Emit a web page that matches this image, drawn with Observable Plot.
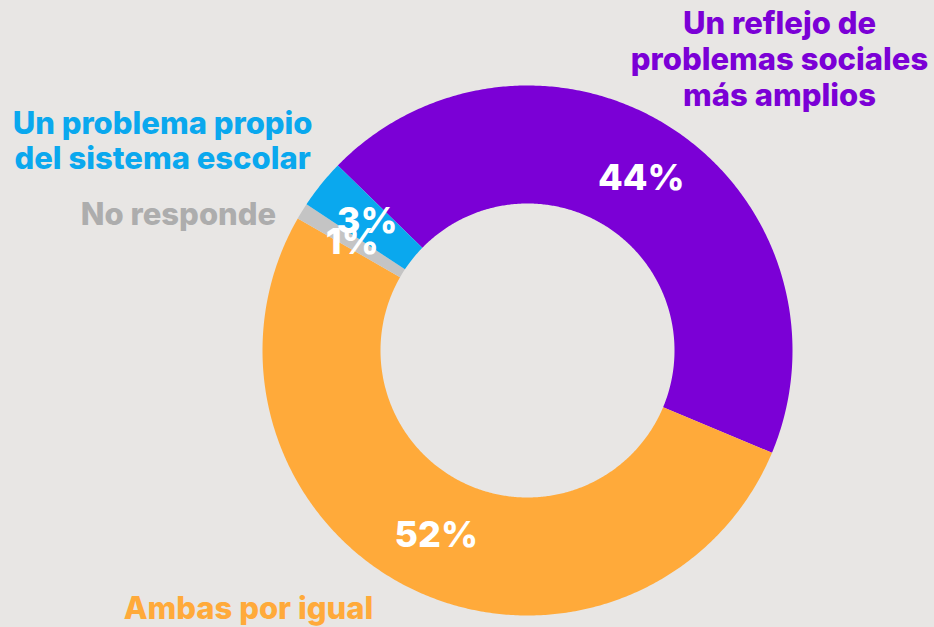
<!DOCTYPE html>
<html>
<head>
<meta charset="utf-8">
<script src="https://cdn.jsdelivr.net/npm/d3@7"></script>
<script src="https://cdn.jsdelivr.net/npm/@observablehq/plot@0.6"></script>
<style>
  html, body { margin: 0; padding: 0; background: #E8E6E4; }
</style>
</head>
<body>
<div id="chart"></div>
<script>
// Data
const categories = [
  "Un reflejo de problemas sociales más amplios",
  "Ambas por igual",
  "No responde",
  "Un problema propio del sistema escolar"
];
const values = [44, 52, 1, 3];
const valueLabels = ["44%", "52%", "1%", "3%"];
const colors = ["#7B00D6", "#FFAA3A", "#C4C4C4", "#0AA8EE"];

// Geometry (unit circle data space)
const startDeg = -45.7;
const innerR = 147 / 265;
const outerR = 1;

const total = d3.sum(values);
const slices = [];
let acc = 0;
categories.forEach((c, i) => {
  const a0 = (startDeg + acc / total * 360) * Math.PI / 180;
  acc += values[i];
  const a1 = (startDeg + acc / total * 360) * Math.PI / 180;
  slices.push({category: c, value: values[i], label: valueLabels[i], a0, a1});
});

const polyPts = [];
slices.forEach(s => {
  const n = Math.max(4, Math.ceil((s.a1 - s.a0) / (Math.PI / 360)));
  for (let k = 0; k <= n; k++) {
    const a = s.a0 + (s.a1 - s.a0) * k / n;
    polyPts.push({category: s.category, x: outerR * Math.sin(a), y: outerR * Math.cos(a)});
  }
  for (let k = n; k >= 0; k--) {
    const a = s.a0 + (s.a1 - s.a0) * k / n;
    polyPts.push({category: s.category, x: innerR * Math.sin(a), y: innerR * Math.cos(a)});
  }
});

const centroids = slices.map(s => {
  const a = (s.a0 + s.a1) / 2;
  const r = (innerR + outerR) / 2;
  return {label: s.label, x: r * Math.sin(a), y: r * Math.cos(a)};
});

const font = "Inter, 'Open Sans', sans-serif";
const catText = (text, x, y, color) => Plot.text([text], {
  x: () => x, y: () => y, text: d => d,
  fill: color, fontSize: 31, fontWeight: 800, lineHeight: 1.15,
  textAnchor: "middle", lineAnchor: "middle"
});

const chart = Plot.plot({
  width: 934,
  height: 627,
  margin: 0,
  x: {domain: [-1, 1], range: [262, 792], axis: null},
  y: {domain: [-1, 1], range: [615, 85], axis: null},
  color: {domain: categories, range: colors},
  style: {background: "#E8E6E4", fontFamily: font},
  marks: [
    Plot.line(polyPts, {x: "x", y: "y", z: "category", fill: "category", stroke: null, curve: "linear"}),
    Plot.text(centroids, {x: "x", y: "y", text: "label", fill: "white", fontSize: 36, fontWeight: 800}),
    catText("Un reflejo de\nproblemas sociales\nmás amplios", 0.951, 1.102, "#7B00D6"),
    catText("Un problema propio\ndel sistema escolar", -1.377, 0.794, "#0AA8EE"),
    catText("No responde", -1.317, 0.517, "#ADADAD"),
    catText("Ambas por igual", -1.053, -0.970, "#FFAA3A")
  ]
});
document.getElementById("chart").appendChild(chart);
</script>
</body>
</html>
